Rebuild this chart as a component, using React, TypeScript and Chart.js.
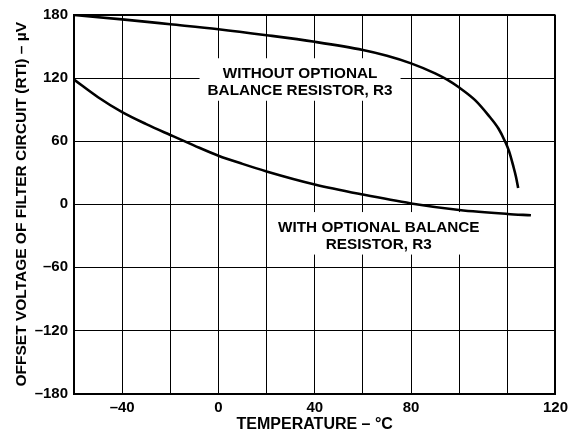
import React, { useEffect, useRef } from "react";
import { Chart, registerables } from "chart.js";

Chart.register(...registerables);

// Temperature positions are in grid units of the original plot (left edge -60, right edge labelled "120")
const withoutTemp = [-60, -40, -20, 0, 20, 40, 60, 70, 80, 90, 95, 100, 106.6, 112, 116.3, 119, 120.7, 122.5, 123.6, 124.5];
const withoutOffset = [180, 175.8, 171.2, 166.5, 160.8, 154.5, 146.7, 141.2, 134, 124.5, 118.5, 111, 99, 85, 72, 60, 50.5, 36, 26, 15.5];

const withTemp = [-60, -50, -40, -30, -20, -10, 0, 10, 20, 40, 60, 80, 100, 120, 129.8];
const withOffset = [118.6, 101.8, 87.6, 76.2, 65.9, 55.8, 46.2, 38.4, 31.2, 18.8, 9.2, 0.8, -5.4, -9.2, -10.5];

const xTickValues = [-40, 0, 40, 80, 140];
const xTickLabels = ["–40", "0", "40", "80", "120"];

const xTitle = "TEMPERATURE – °C";
const yTitle = "OFFSET VOLTAGE OF FILTER CIRCUIT (RTI) – µV";

const labelTexts = [
  ["WITHOUT OPTIONAL", "BALANCE RESISTOR, R3"],
  ["WITH OPTIONAL BALANCE", "RESISTOR, R3"],
];
const labelAnchorX = [33.9, 66.6];
const labelAnchorY = [115.8, -30.5];

const FONT = "'Liberation Sans', Arial, Helvetica, sans-serif";

const labelPlugin = {
  id: "curveLabels",
  beforeDatasetsDraw(chart: any) {
    const { ctx } = chart;
    const xs = chart.scales.x;
    const ys = chart.scales.y;
    ctx.save();
    ctx.font = `bold 15.3px ${FONT}`;
    labelTexts.forEach((lines, k) => {
      const cx = xs.getPixelForValue(labelAnchorX[k]);
      const cy = ys.getPixelForValue(labelAnchorY[k]);
      const lh = 16.5;
      const n = lines.length;
      const firstY = cy - (lh * (n - 1)) / 2;
      const lastY = cy + (lh * (n - 1)) / 2;
      const w = Math.max(...lines.map((l) => ctx.measureText(l).width));
      ctx.fillStyle = "#fff";
      ctx.fillRect(cx - w / 2 - 8, firstY - 16, w + 16, lastY - firstY + 26);
      ctx.fillStyle = "#000";
      ctx.textAlign = "center";
      ctx.textBaseline = "middle";
      lines.forEach((l, i) => ctx.fillText(l, cx, firstY + i * lh));
    });
    ctx.restore();
  },
};

export default function App() {
  const ref = useRef<HTMLCanvasElement | null>(null);

  useEffect(() => {
    if (!ref.current) return;
    const chart = new Chart(ref.current, {
      type: "scatter",
      data: {
        datasets: [
          {
            label: "Without optional balance resistor, R3",
            data: withoutTemp.map((t, i) => ({ x: t, y: withoutOffset[i] })),
            showLine: true,
            borderColor: "#000",
            borderWidth: 2.6,
            pointRadius: 0,
            cubicInterpolationMode: "monotone",
          },
          {
            label: "With optional balance resistor, R3",
            data: withTemp.map((t, i) => ({ x: t, y: withOffset[i] })),
            showLine: true,
            borderColor: "#000",
            borderWidth: 2.6,
            pointRadius: 0,
            cubicInterpolationMode: "monotone",
          },
        ],
      },
      options: {
        animation: false,
        responsive: false,
        maintainAspectRatio: false,
        layout: { padding: { left: 0, right: 15.3, top: 9.5, bottom: 0 } },
        plugins: {
          legend: { display: false },
          tooltip: { enabled: false },
        },
        scales: {
          x: {
            type: "linear",
            min: -60,
            max: 140,
            afterFit: (s: any) => {
              s.height = 42.5;
            },
            afterBuildTicks: (s: any) => {
              const t = [];
              for (let v = -60; v <= 140; v += 20) t.push({ value: v });
              s.ticks = t;
            },
            ticks: {
              autoSkip: false,
              maxRotation: 0,
              padding: 5,
              color: "#000",
              font: { family: FONT, size: 15, weight: "bold" },
              callback: (v: any) => {
                const i = xTickValues.indexOf(Number(v));
                return i >= 0 ? xTickLabels[i] : "";
              },
            },
            grid: {
              color: "#000",
              drawTicks: false,
              lineWidth: (c: any) => (c.tick && c.tick.value === 140 ? 2 : 1),
            },
            border: { display: true, color: "#000", width: 2 },
            title: {
              display: true,
              text: xTitle,
              color: "#000",
              font: { family: FONT, size: 16, weight: "bold" },
              padding: { top: 0, bottom: 2 },
            },
          },
          y: {
            type: "linear",
            min: -180,
            max: 180,
            afterFit: (s: any) => {
              s.width = 74;
            },
            ticks: {
              stepSize: 60,
              padding: 6,
              color: "#000",
              font: { family: FONT, size: 15, weight: "bold" },
              callback: (v: any) => (Number(v) < 0 ? "–" + Math.abs(Number(v)) : String(v)),
            },
            grid: {
              color: "#000",
              drawTicks: false,
              lineWidth: (c: any) => (c.tick && c.tick.value === 180 ? 2 : 1),
            },
            border: { display: true, color: "#000", width: 2 },
            title: {
              display: true,
              text: yTitle,
              color: "#000",
              font: { family: FONT, size: 15.5, weight: "bold" },
              padding: { top: 12, bottom: 0 },
            },
          },
        },
      },
      plugins: [labelPlugin],
    });
    return () => chart.destroy();
  }, []);

  return (
    <div style={{ position: "absolute", left: 0, top: 0, width: 573, height: 436, background: "#fff" }}>
      <canvas ref={ref} width={573} height={436} style={{ display: "block" }} />
    </div>
  );
}
